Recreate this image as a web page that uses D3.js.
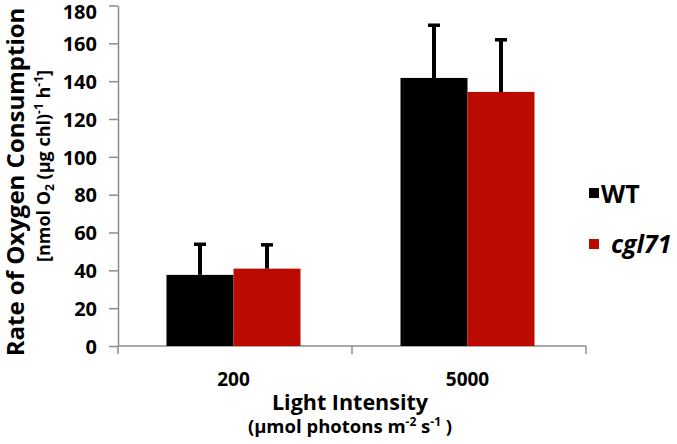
<!DOCTYPE html>
<html><head><meta charset="utf-8">
<script src="https://cdn.jsdelivr.net/npm/d3@7"></script>
<style>
body{margin:0;background:#fff;}
text{font-family:"Open Sans",sans-serif;font-weight:bold;fill:#000;}
</style></head>
<body>
<svg id="c" width="677" height="444"></svg>
<script>
const categories = ["200", "5000"];
const seriesNames = ["WT", "cgl71"];
const wtValues = [37.6, 141.7];
const wtErrors = [16.7, 28.4];
const cglValues = [40.9, 134.3];
const cglErrors = [13.1, 28.1];
const yTicks = [0, 20, 40, 60, 80, 100, 120, 140, 160, 180];
const colors = ["#000000", "#bb0a00"];

const svg = d3.select("#c");
const x0 = d3.scaleBand().domain(categories).range([118, 586]).padding(0);
const x1 = d3.scaleBand().domain(seriesNames).range([0, 134]);
const y = d3.scaleLinear().domain([0, 180]).range([346, 5.5]);
const axisColor = "#8c8c8c";

// y axis
const ya = svg.append("g").attr("transform", "translate(118,0)")
  .call(d3.axisLeft(y).tickValues(yTicks).tickSize(9).tickSizeOuter(0).tickPadding(12));
ya.select(".domain").attr("stroke", axisColor).attr("stroke-width", 1.5);
ya.selectAll(".tick line").attr("stroke", axisColor).attr("stroke-width", 1.5);
ya.selectAll(".tick text").style("font-size", "20px").attr("font-family", null)
  .attr("dy", d => d === 180 ? "0.65em" : "0.36em");

// x axis line + separator ticks
const xa = svg.append("g");
xa.append("line").attr("x1", x0.range()[0]).attr("x2", x0.range()[1])
  .attr("y1", y(0)).attr("y2", y(0)).attr("stroke", axisColor).attr("stroke-width", 1.5);
const seps = categories.map(c => x0(c)).concat([x0.range()[1]]);
xa.selectAll("line.sep").data(seps).enter().append("line").attr("class", "sep")
  .attr("x1", d => d).attr("x2", d => d).attr("y1", y(0)).attr("y2", y(0) + 8)
  .attr("stroke", axisColor).attr("stroke-width", 1.5);
const groupCenter = c => x0(c) + x0.bandwidth() / 2 - 1.5;
xa.selectAll("text.cat").data(categories).enter().append("text").attr("class", "cat")
  .attr("x", d => groupCenter(d)).attr("y", 386).attr("text-anchor", "middle")
  .style("font-size", "19px").text(d => d);

// bars
const data = [];
categories.forEach((c, i) => {
  data.push({c, s: "WT", v: wtValues[i], e: wtErrors[i], col: colors[0]});
  data.push({c, s: "cgl71", v: cglValues[i], e: cglErrors[i], col: colors[1]});
});
const bx = d => groupCenter(d.c) - 67 + x1(d.s);
svg.selectAll("rect.bar").data(data).enter().append("rect").attr("class", "bar")
  .attr("x", d => bx(d)).attr("width", x1.bandwidth())
  .attr("y", d => y(d.v)).attr("height", d => y(0) - y(d.v)).attr("fill", d => d.col);

// error bars
const eb = svg.selectAll("g.err").data(data).enter().append("g").attr("class", "err");
eb.append("line").attr("x1", d => bx(d) + x1.bandwidth() / 2).attr("x2", d => bx(d) + x1.bandwidth() / 2)
  .attr("y1", d => y(d.v)).attr("y2", d => y(d.v + d.e)).attr("stroke", "#000").attr("stroke-width", 4);
eb.append("line").attr("x1", d => bx(d) + x1.bandwidth() / 2 - 6).attr("x2", d => bx(d) + x1.bandwidth() / 2 + 6)
  .attr("y1", d => y(d.v + d.e) + 1).attr("y2", d => y(d.v + d.e) + 1).attr("stroke", "#000").attr("stroke-width", 3.5);

// x title
svg.append("text").attr("x", 350).attr("y", 410).attr("text-anchor", "middle")
  .style("font-size", "21.5px").text("Light Intensity");
const xt2 = svg.append("text").attr("x", 350).attr("y", 433).attr("text-anchor", "middle").style("font-size", "18.5px");
xt2.append("tspan").text("(µmol photons m");
xt2.append("tspan").attr("dy", -7).style("font-size", "12px").text("-2");
xt2.append("tspan").attr("dy", 7).text(" s");
xt2.append("tspan").attr("dy", -7).style("font-size", "12px").text("-1");
xt2.append("tspan").attr("dy", 7).text(" )");

// y title
svg.append("text").attr("transform", "translate(24,182) rotate(-90)").attr("text-anchor", "middle")
  .style("font-size", "24px").text("Rate of Oxygen Consumption");
const yt2 = svg.append("text").attr("transform", "translate(50,166) rotate(-90)").attr("text-anchor", "middle")
  .style("font-size", "18px");
yt2.append("tspan").text("[nmol O");
yt2.append("tspan").attr("dy", 4).style("font-size", "12px").text("2");
yt2.append("tspan").attr("dy", -4).text(" (µg chl)");
yt2.append("tspan").attr("dy", -7).style("font-size", "12px").text("-1");
yt2.append("tspan").attr("dy", 7).text(" h");
yt2.append("tspan").attr("dy", -7).style("font-size", "12px").text("-1");
yt2.append("tspan").attr("dy", 7).text("]");

// legend
const lg = svg.selectAll("g.lg").data(seriesNames).enter().append("g").attr("class", "lg")
  .attr("transform", (d, i) => `translate(589,${188 + i * 51})`);
lg.append("rect").attr("width", 10).attr("height", 10).attr("fill", (d, i) => colors[i]);
lg.append("text").attr("x", (d, i) => i === 1 ? 22 : 12).attr("y", (d, i) => i === 1 ? 14 : 15)
  .style("font-size", "25px")
  .style("font-style", (d, i) => i === 1 ? "italic" : "normal").text(d => d);
</script>
</body></html>
